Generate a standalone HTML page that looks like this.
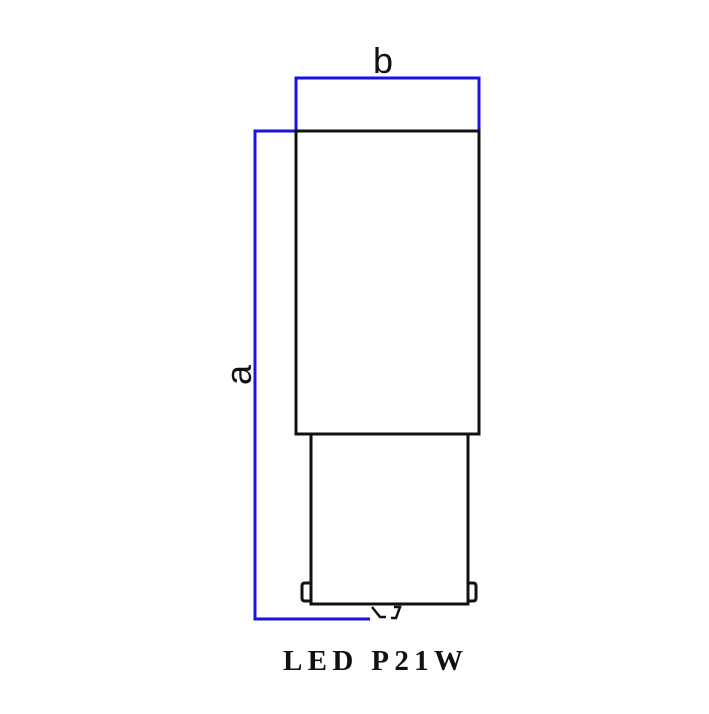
<!DOCTYPE html>
<html><head><style>body{margin:0;background:#fff}</style></head><body>
<svg width="709" height="709" viewBox="0 0 709 709" xmlns="http://www.w3.org/2000/svg">
<rect width="709" height="709" fill="#fff"/>
<g stroke="#1a12e0" stroke-width="3" fill="none">
<polyline points="296,131 296,78 479,78 479,131"/>
<polyline points="296,131 255,131 255,619 370,619"/>
</g>
<g stroke="#111" stroke-width="3" fill="none">
<rect x="296" y="131" width="183" height="303"/>
<polyline points="311,434 311,604 468,604 468,434"/>
<path d="M311,583 h-6 q-3,0 -3,3 v12 q0,3 3,3 h6"/>
<path d="M468,583 h5 q3,0 3,3 v12 q0,3 -3,3 h-5"/>
<path d="M372,607 l8,10 h6 M394,607 h6 l-4,11 h-5" stroke-width="2.5"/>
</g>
<text x="383" y="73" font-family="Liberation Sans, sans-serif" font-size="36" text-anchor="middle" fill="#111">b</text>
<text transform="translate(251,375) rotate(-90)" font-family="Liberation Sans, sans-serif" font-size="36" text-anchor="middle" fill="#111">a</text>
<text x="283" y="670" textLength="180" lengthAdjust="spacing" font-family="Liberation Serif, serif" font-weight="bold" font-size="29" fill="#111">LED P21W</text>
</svg>
</body></html>
